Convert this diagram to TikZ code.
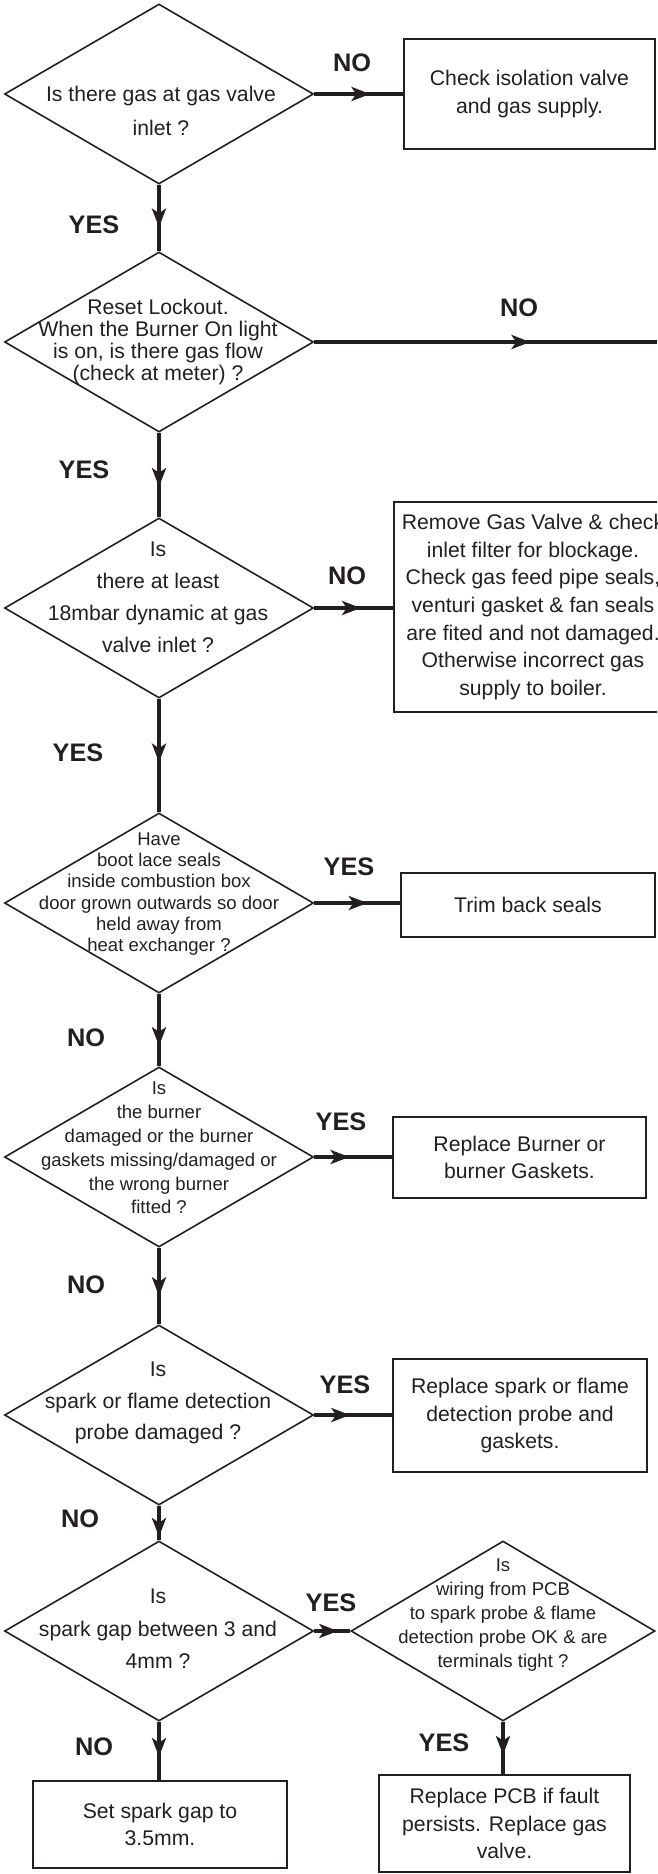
\documentclass[tikz,border=0pt]{standalone}
\usepackage{fontspec}
\setmainfont{Liberation Sans}
\usetikzlibrary{arrows.meta,shapes.geometric,decorations.markings}
\definecolor{chartink}{RGB}{35,31,32}

\begin{document}
\begin{tikzpicture}[
    x=0.75pt, y=-0.75pt,
    decision/.style={draw, diamond, color=chartink, line width=1.2pt, inner sep=0pt, minimum width=231.75pt, minimum height=135pt},
    qtext/.style={align=center, inner sep=0pt, text=chartink, font=\fontsize{15.9pt}{#1}\selectfont},
    qsmall/.style={align=center, inner sep=0pt, text=chartink, font=\fontsize{13.9pt}{#1}\selectfont},
    box/.style={draw, color=chartink, line width=1.5pt, align=center, inner sep=0pt, font=\fontsize{15.9pt}{20.8pt}\selectfont},
    answer/.style={inner sep=0pt, text=chartink, font=\fontsize{19pt}{19pt}\selectfont\bfseries},
    flow/.style={color=chartink, line width=3.6pt, postaction={decorate},
      decoration={markings, mark=at position #1 with {\arrow{Stealth[length=14pt,width=10.5pt,inset=3.5pt]}}}},
    flow/.default=0.62
  ]
    \useasboundingbox (0,0) rectangle (657,1874);
    \clip (0,0) rectangle (657,1874);

    \node[decision] (gasinlet) at (159,94) {};
    \node[decision] (lockout) at (159,342) {};
    \node[decision] (pressure) at (159,608) {};
    \node[decision] (seals) at (159,903) {};
    \node[decision] (burner) at (159,1157) {};
    \node[decision] (probe) at (159,1415) {};
    \node[decision] (gap) at (159,1631) {};
    \node[decision, minimum width=228pt] (wiring) at (503,1631) {};

    \node[qtext=25pt] (gasinlettxt) at (161,111) {Is there gas at gas valve\\inlet ?};
    \node[qtext=16.3pt] (lockouttxt) at (158,342) {Reset Lockout.\\When the Burner On light\\is on, is there gas flow\\(check at meter) ?};
    \node[qtext=24pt] (pressuretxt) at (158,597) {Is\\there at least\\18mbar dynamic at gas\\valve inlet ?};
    \node[qsmall=16pt] (sealstxt) at (159,894) {Have\\boot lace seals\\inside combustion box\\door grown outwards so door\\held away from\\heat exchanger ?};
    \node[qsmall=17.9pt] (burnertxt) at (159,1148) {Is\\the burner\\damaged or the burner\\gaskets missing/damaged or\\the wrong burner\\fitted ?};
    \node[qtext=23.8pt] (probetxt) at (158,1403) {Is\\spark or flame detection\\probe damaged ?};
    \node[qtext=24.4pt] (gaptxt) at (158,1629) {Is\\spark gap between 3 and\\4mm ?};
    \node[qsmall=18pt] (wiringtxt) at (503,1615) {Is\\wiring from PCB\\to spark probe \& flame\\detection probe OK \& are\\terminals tight ?};

    \node[box, minimum width=188.25pt, minimum height=82.5pt] (isolation) at (529.5,94) {Check isolation valve\\and gas supply.};
    \coordinate (offpage) at (657,342);
    \node[box, minimum width=208.5pt, minimum height=157.5pt] (filter) at (533,607) {Remove Gas Valve \& check\\inlet filter for blockage.\\Check gas feed pipe seals,\\venturi gasket \& fan seals\\are fited and not damaged.\\Otherwise incorrect gas\\supply to boiler.};
    \node[box, minimum width=190.5pt, minimum height=48pt] (trim) at (528,905) {Trim back seals};
    \node[box, minimum width=189.75pt, minimum height=60.75pt] (newburner) at (519.5,1157.5) {Replace Burner or\\burner Gaskets.};
    \node[box, minimum width=190.5pt, minimum height=84.75pt] (newprobe) at (520,1415.5) {Replace spark or flame\\detection probe and\\gaskets.};
    \node[box, minimum width=190.5pt, minimum height=65.25pt] (setgap) at (160,1824.5) {Set spark gap to\\3.5mm.};
    \node[box, minimum width=188.25pt, minimum height=72.75pt] (newpcb) at (504.5,1823.5) {Replace PCB if fault\\persists. Replace gas\\valve.};

    \node[answer] (no1) at (352,63) {NO};
    \node[answer] (yes1) at (94,225) {YES};
    \node[answer] (no2) at (519,308) {NO};
    \node[answer] (yes2) at (84,470) {YES};
    \node[answer] (no3) at (347,576) {NO};
    \node[answer] (yes3) at (78,753) {YES};
    \node[answer] (yes4) at (349,867) {YES};
    \node[answer] (no4) at (86,1038) {NO};
    \node[answer] (yes5) at (341,1122) {YES};
    \node[answer] (no5) at (86,1285) {NO};
    \node[answer] (yes6) at (345,1385) {YES};
    \node[answer] (no6) at (80,1519) {NO};
    \node[answer] (yes7) at (331,1603) {YES};
    \node[answer] (no7) at (94,1747) {NO};
    \node[answer] (yes8) at (444,1743) {YES};

    \draw[flow=0.63] (gasinlet.east) -- (gasinlet.east -| isolation.west);
    \draw[flow=0.64] (gasinlet.south) -- (lockout.north);
    \draw[flow=0.63] (lockout.east) -- (offpage);
    \draw[flow=0.64] (lockout.south) -- (pressure.north);
    \draw[flow=0.59] (pressure.east) -- (pressure.east -| filter.west);
    \draw[flow=0.56] (pressure.south) -- (seals.north);
    \draw[flow=0.62] (seals.east) -- (seals.east -| trim.west);
    \draw[flow=0.72] (seals.south) -- (burner.north);
    \draw[flow=0.45] (burner.east) -- (burner.east -| newburner.west);
    \draw[flow=0.63] (burner.south) -- (probe.north);
    \draw[flow=0.46] (probe.east) -- (probe.east -| newprobe.west);
    \draw[flow=0.9] (probe.south) -- (gap.north);
    \draw[flow=0.66] (gap.east) -- (wiring.west);
    \draw[flow=0.6] (gap.south) -- (gap.south |- setgap.north);
    \draw[flow=0.63] (wiring.south) -- (wiring.south |- newpcb.north);
  \end{tikzpicture}
\end{document}
